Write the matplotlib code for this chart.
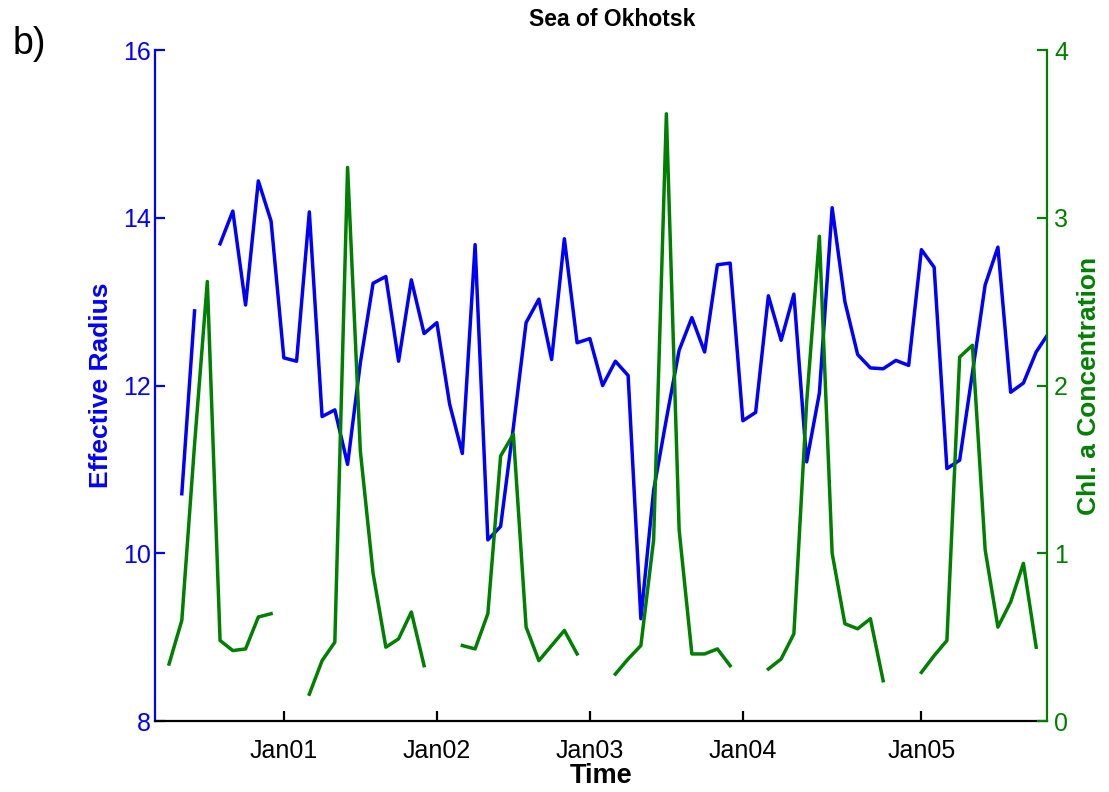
import matplotlib
matplotlib.use('Agg')
import matplotlib.pyplot as plt
import numpy as np

nan = np.nan

# month index, 0 = first month of the record
months = np.arange(70)

# effective radius (left axis)
radius = [nan, 10.71, 12.89, nan, 13.69, 14.08, 12.96, 14.44, 13.96, 12.33,
          12.29, 14.07, 11.63, 11.71, 11.06, 12.27, 13.22, 13.30, 12.29, 13.26,
          12.62, 12.75, 11.78, 11.19, 13.68, 10.16, 10.32, 11.50, 12.75, 13.03,
          12.31, 13.75, 12.51, 12.56, 12.00, 12.29, 12.12, 9.22, 10.75, 11.60,
          12.42, 12.81, 12.40, 13.44, 13.46, 11.58, 11.68, 13.07, 12.54, 13.09,
          11.09, 11.91, 14.12, 13.00, 12.37, 12.21, 12.20, 12.30, 12.24, 13.62,
          13.41, 11.01, 11.11, 12.15, 13.20, 13.65, 11.92, 12.03, 12.40, 12.63]

# chlorophyll a concentration (right axis)
chl = [0.34, 0.60, 1.65, 2.62, 0.48, 0.42, 0.43, 0.62, 0.64, nan,
       nan, 0.16, 0.36, 0.47, 3.30, 1.61, 0.88, 0.44, 0.49, 0.65,
       0.33, nan, nan, 0.45, 0.43, 0.64, 1.58, 1.71, 0.56, 0.36,
       0.45, 0.54, 0.40, nan, nan, 0.28, 0.37, 0.45, 1.08, 3.62,
       1.14, 0.40, 0.40, 0.43, 0.33, nan, nan, 0.31, 0.37, 0.52,
       1.90, 2.89, 1.00, 0.58, 0.55, 0.61, 0.24, nan, nan, 0.29,
       0.39, 0.48, 2.17, 2.24, 1.02, 0.56, 0.71, 0.94, 0.44, nan]

tick_pos = [9, 21, 33, 45, 59]
tick_labels = ['Jan01', 'Jan02', 'Jan03', 'Jan04', 'Jan05']

blue = (0, 0, 1)
green = (0, 0.5, 0)

plt.rcParams['font.family'] = ['Liberation Sans', 'DejaVu Sans']

fig = plt.figure(figsize=(11.09, 7.92), dpi=100)
ax = fig.add_axes([0.1398, 0.0896, 0.8043, 0.8472])
ax2 = ax.twinx()

ax.plot(months, radius, color=blue, lw=2.5)
ax2.plot(months, chl, color=green, lw=2.5)

ax.set_xlim(-1.1, 68.85)
ax.set_ylim(8, 16)
ax2.set_ylim(0, 4)
ax.set_yticks([8, 10, 12, 14, 16])
ax2.set_yticks([0, 1, 2, 3, 4])
ax.set_xticks(tick_pos)
ax.set_xticklabels(tick_labels)

for s in ['top', 'right']:
    ax.spines[s].set_visible(False)
for s in ['top', 'left', 'bottom']:
    ax2.spines[s].set_visible(False)
ax.spines['left'].set_color(blue)
ax.spines['left'].set_linewidth(1.6)
ax.spines['bottom'].set_color('black')
ax.spines['bottom'].set_linewidth(1.6)
ax2.spines['right'].set_color(green)
ax2.spines['right'].set_linewidth(1.6)

ax.tick_params(axis='y', direction='in', length=7, width=1.6, colors=blue,
               labelsize=18, pad=3)
ax.tick_params(axis='x', direction='in', length=7, width=1.6, colors='black',
               labelsize=18, pad=13)
ax2.tick_params(axis='y', direction='in', length=7, width=1.6, colors=green,
                labelsize=18, pad=5)

ax.set_ylabel('Effective Radius', color=blue, fontsize=19, fontweight='bold')
ax.yaxis.set_label_coords(-0.047, 0.5)
ax2.set_ylabel('Chl. a Concentration', color=green, fontsize=19, fontweight='bold')
ax2.yaxis.set_label_coords(1.034, 0.5)
ax.set_xlabel('Time', fontsize=19.5, fontweight='bold')
ax.xaxis.label.set_va('center')
ax.xaxis.set_label_coords(0.5, -0.082)

fig.text(612 / 1109, 1 - 19 / 792, 'Sea of Okhotsk', ha='center', va='center',
         fontsize=16.5, fontweight='bold')
fig.text(0.011, 1 - 44 / 792, 'b)', ha='left', va='center', fontsize=27)

fig.savefig('out.png', dpi=100)
